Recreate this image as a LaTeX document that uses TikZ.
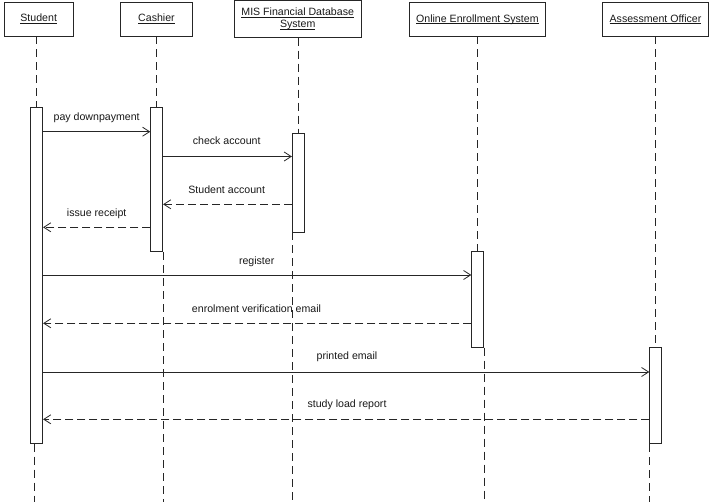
\documentclass[tikz,border=0pt]{standalone}
\usepackage{fontspec}
\setmainfont{Liberation Sans}
\usetikzlibrary{arrows.meta}
\newcommand\myul[1]{\setbox0\hbox{#1}\rlap{\rule[-1.9pt]{\wd0}{0.6pt}}\box0}
\begin{document}
\begin{tikzpicture}[x=1pt,y=-1pt,
  every node/.style={font=\fontsize{10.6}{12.3}\selectfont, text=black!90},
  head/.style={draw=black!85, line width=0.8pt, fill=white, inner sep=0pt, align=center},
  act/.style={draw=black!85, line width=0.8pt, fill=white, inner sep=0pt, minimum width=12pt},
  life/.style={draw=black!85, line width=0.8pt, dash pattern=on 8pt off 5pt},
  msg/.style={draw=black!85, line width=0.8pt, -{Straight Barb[length=7pt,width=9pt,line width=0.8pt]}},
  ret/.style={msg, dash pattern=on 8pt off 4pt},
  lbl/.style={inner sep=0pt, text height=7.7pt, text depth=2.2pt}]
\useasboundingbox (0,0) rectangle (710,502);
\fill[white] (0,0) rectangle (710,502);
% header boxes
\node[head, minimum width=69.3pt, minimum height=34pt, text height=8pt, text depth=2.4pt] (student) at (38.7,19) {\myul{Student}};
\node[head, minimum width=71.6pt, minimum height=34pt, text height=8pt, text depth=2.4pt] (cashier) at (156.5,19) {\myul{Cashier}};
\node[head, minimum width=126.7pt, minimum height=37pt] (mis) at (297.7,18.8) {\myul{MIS Financial Database}\\\myul{System}};
\node[head, minimum width=136.7pt, minimum height=33.3pt, text height=8pt, text depth=2.4pt] (oes) at (477.4,19.3) {\myul{Online Enrollment System}};
\node[head, minimum width=106pt, minimum height=33.3pt, text height=8pt, text depth=2.4pt] (ao) at (655.5,19.3) {\myul{Assessment Officer}};
% activation boxes
\node[act, minimum height=335.6pt] (sa) at (36.7,275.5) {};
\node[act, minimum height=144pt] (ca) at (156.7,179.7) {};
\node[act, minimum height=98.7pt] (ma) at (298.3,182.7) {};
\node[act, minimum height=95.6pt] (oa) at (477.7,299.5) {};
\node[act, minimum height=96.4pt] (aa) at (655.7,395.5) {};
% lifelines
\coordinate (bottom) at (0,502);
\coordinate (sb) at (34.5,502);
\draw[life] (sa.north |- student.south) -- (sa.north);
\draw[life] (sa.south -| sb) -- (sb);
\draw[life] (ca.north |- cashier.south) -- (ca.north);
\draw[life] (ca.south east) -- (ca.south east |- bottom);
\draw[life] (ma.north |- mis.south) -- (ma.north);
\draw[life] (ma.south west) -- (ma.south west |- bottom);
\draw[life] (oa.north |- oes.south) -- (oa.north);
\draw[life] (oa.south east) -- (oa.south east |- bottom);
\draw[life] (aa.north |- ao.south) -- (aa.north);
\draw[life] (aa.south west) -- (aa.south west |- bottom);
% message positions
\coordinate (m1) at (0,131.7);
\coordinate (m2) at (0,156.5);
\coordinate (m3) at (0,204.3);
\coordinate (m4) at (0,227.3);
\coordinate (m5) at (0,275);
\coordinate (m6) at (0,323.3);
\coordinate (m7) at (0,372);
\coordinate (m8) at (0,419.3);
% messages
\draw[msg] (sa.east |- m1) -- (ca.west |- m1);
\draw[msg] (ca.east |- m2) -- (ma.west |- m2);
\draw[ret] (ma.west |- m3) -- (ca.east |- m3);
\draw[ret] (ca.west |- m4) -- (sa.east |- m4);
\draw[msg] (sa.east |- m5) -- (oa.west |- m5);
\draw[ret] (oa.west |- m6) -- (sa.east |- m6);
\draw[msg] (sa.east |- m7) -- (aa.west |- m7);
\draw[ret] (aa.west |- m8) -- (sa.east |- m8);
% labels
\node[lbl] (l1) at (96.7,118) {pay downpayment};
\node[lbl] (l2) at (226.7,142) {check account};
\node[lbl] (l3) at (226.7,190.3) {Student account};
\node[lbl] (l4) at (96.7,213.7) {issue receipt};
\node[lbl] (l5) at (256.7,262) {register};
\node[lbl] (l6) at (256.5,310) {enrolment verification email};
\node[lbl] (l7) at (347,357) {printed email};
\node[lbl] (l8) at (347,405) {study load report};
\end{tikzpicture}
\end{document}
